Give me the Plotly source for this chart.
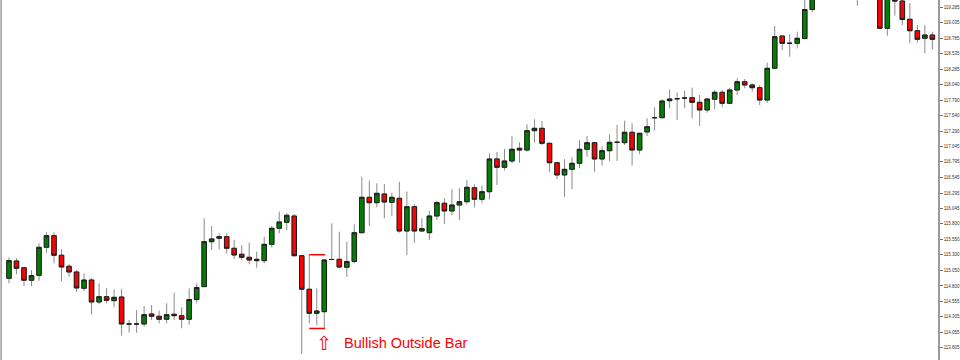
import plotly.graph_objects as go

# ---------------- data ----------------
bar_index = list(range(124))

opens = [
    114.924, 115.202, 115.094, 114.892, 114.972, 115.422, 115.609, 115.294, 115.117, 115.025,
    114.763, 114.896, 114.543, 114.628, 114.564, 114.623, 114.189, 114.189, 114.189, 114.350,
    114.313, 114.265, 114.345, 114.323, 114.265, 114.583, 114.790, 115.512, 115.567, 115.593,
    115.406, 115.310, 115.261, 115.229, 115.207, 115.470, 115.728, 115.824, 115.925, 115.287,
    114.747, 114.361, 114.387, 115.226, 115.229, 115.101, 115.194, 115.657, 116.226, 116.139,
    116.279, 116.146, 116.210, 115.684, 116.075, 115.684, 115.657, 115.925, 116.130, 116.006,
    116.102, 116.155, 116.380, 116.194, 116.316, 116.842, 116.708, 116.810, 117.014, 116.986,
    117.297, 117.335, 117.094, 116.782, 116.585, 116.676, 116.773, 116.998, 117.104, 116.842,
    116.975, 117.110, 117.104, 117.271, 116.986, 117.276, 117.506, 117.506, 117.779, 117.811,
    117.822, 117.827, 117.753, 117.630, 117.802, 117.914, 117.737, 117.951, 118.085, 118.032,
    117.988, 117.790, 118.300, 118.819, 118.702, 118.702, 118.779, 119.245, 119.750, 119.620,
    119.900, 120.050, 119.850, 119.980, 119.600, 119.780, 119.650, 118.943, 119.400, 119.382,
    119.088, 118.904, 118.782, 118.835,
]
highs = [
    115.261, 115.245, 115.105, 115.057, 115.487, 115.663, 115.663, 115.390, 115.149, 115.057,
    115.004, 114.929, 114.843, 114.763, 114.747, 114.752, 114.253, 114.414, 114.478, 114.495,
    114.403, 114.522, 114.692, 114.458, 114.763, 114.843, 115.888, 115.765, 115.647, 115.647,
    115.540, 115.459, 115.496, 115.351, 115.593, 115.765, 115.995, 115.969, 115.958, 115.298,
    115.303, 114.763, 115.234, 115.808, 115.673, 115.512, 115.789, 116.557, 116.493, 116.451,
    116.440, 116.300, 116.477, 116.316, 116.114, 115.888, 116.011, 116.171, 116.210, 116.355,
    116.371, 116.504, 116.435, 116.413, 116.930, 116.954, 117.003, 117.212, 117.110, 117.400,
    117.480, 117.453, 117.100, 116.798, 116.837, 116.869, 117.147, 117.212, 117.110, 117.040,
    117.239, 117.388, 117.458, 117.416, 117.260, 117.496, 117.673, 117.798, 117.962, 117.914,
    117.940, 117.988, 117.871, 117.818, 117.951, 117.951, 117.988, 118.139, 118.128, 118.059,
    118.032, 118.390, 118.980, 118.820, 118.847, 118.888, 119.420, 119.850, 119.880, 120.000,
    120.150, 120.120, 120.060, 120.020, 119.900, 119.860, 119.720, 119.500, 119.460, 119.430,
    119.350, 118.996, 118.996, 118.888,
]
lows = [
    114.843, 114.993, 114.800, 114.800, 114.885, 115.335, 115.165, 114.880, 114.950, 114.704,
    114.715, 114.345, 114.506, 114.522, 114.458, 114.001, 114.049, 114.049, 114.146, 114.253,
    114.200, 114.200, 114.253, 114.120, 114.176, 114.522, 114.785, 115.379, 115.390, 115.326,
    115.234, 115.218, 115.149, 115.094, 115.165, 115.416, 115.647, 115.700, 115.271, 113.707,
    114.200, 114.173, 114.117, 115.218, 115.085, 114.945, 115.165, 115.647, 115.765, 116.065,
    115.888, 115.930, 115.657, 115.298, 115.496, 115.668, 115.540, 115.861, 115.797, 115.941,
    115.861, 116.114, 116.065, 116.130, 116.194, 116.424, 116.657, 116.773, 116.782, 116.959,
    117.104, 117.067, 116.638, 116.520, 116.236, 116.355, 116.692, 116.879, 116.638, 116.734,
    116.810, 116.810, 117.067, 116.734, 116.922, 117.212, 117.300, 117.496, 117.657, 117.469,
    117.657, 117.496, 117.372, 117.586, 117.641, 117.673, 117.726, 117.871, 117.978, 117.924,
    117.710, 117.747, 118.289, 118.594, 118.486, 118.621, 118.766, 119.200, 119.520, 119.550,
    119.800, 119.750, 119.700, 119.306, 119.500, 119.480, 118.940, 118.824, 119.146, 118.996,
    118.702, 118.712, 118.541, 118.605,
]
closes = [
    115.207, 115.085, 114.892, 114.966, 115.422, 115.609, 115.294, 115.105, 115.025, 114.768,
    114.896, 114.543, 114.628, 114.570, 114.618, 114.189, 114.189, 114.189, 114.339, 114.313,
    114.265, 114.339, 114.323, 114.265, 114.583, 114.776, 115.512, 115.556, 115.593, 115.406,
    115.298, 115.261, 115.218, 115.207, 115.470, 115.728, 115.829, 115.937, 115.287, 114.747,
    114.361, 114.398, 115.218, 115.226, 115.105, 115.194, 115.657, 116.226, 116.139, 116.290,
    116.150, 116.226, 115.684, 116.075, 115.684, 115.721, 115.925, 116.139, 116.006, 116.102,
    116.155, 116.387, 116.194, 116.316, 116.842, 116.708, 116.810, 116.998, 116.986, 117.297,
    117.335, 117.094, 116.782, 116.585, 116.676, 116.773, 116.998, 117.104, 116.842, 116.975,
    117.110, 117.110, 117.271, 116.986, 117.255, 117.361, 117.506, 117.774, 117.806, 117.811,
    117.822, 117.753, 117.630, 117.806, 117.914, 117.737, 117.951, 118.085, 118.032, 117.988,
    117.790, 118.300, 118.808, 118.702, 118.702, 118.782, 119.245, 119.750, 119.620, 119.900,
    120.050, 119.850, 119.980, 119.600, 119.780, 119.620, 118.943, 119.430, 119.382, 119.085,
    118.904, 118.766, 118.835, 118.766,
]

y_tick_vals = [119.285, 119.035, 118.785, 118.535, 118.285, 118.040, 117.790, 117.540,
               117.290, 117.045, 116.795, 116.545, 116.295, 116.045, 115.800, 115.550,
               115.300, 115.050, 114.800, 114.555, 114.305, 114.055, 113.805]
y_tick_text = [f"{v:.3f}" for v in y_tick_vals]

annotation_text = "Bullish Outside Bar"
outside_bar = 42

# ---------------- figure ----------------
body_high = [max(o, c) for o, c in zip(opens, closes)]
body_low = [min(o, c) for o, c in zip(opens, closes)]

WICK = "#8a8a8a"
fig = go.Figure()
fig.add_trace(go.Candlestick(
    x=bar_index, open=opens, high=highs, low=lows, close=closes,
    increasing=dict(line=dict(color=WICK, width=1), fillcolor=WICK),
    decreasing=dict(line=dict(color=WICK, width=1), fillcolor=WICK),
    whiskerwidth=0, hoverinfo="skip", showlegend=False,
))
fig.add_trace(go.Candlestick(
    x=bar_index, open=opens, high=body_high, low=body_low, close=closes,
    increasing=dict(line=dict(color="#1e1e1e", width=1), fillcolor="#008000"),
    decreasing=dict(line=dict(color="#1e1e1e", width=1), fillcolor="#ff0000"),
    whiskerwidth=0, hoverinfo="skip", showlegend=False,
))

RED = "#ff0000"
# bracket marking the range engulfed by the outside bar
fig.add_shape(type="line", xref="x", yref="y",
              x0=outside_bar - 2, x1=outside_bar + 0.1,
              y0=highs[outside_bar - 2], y1=highs[outside_bar - 2],
              line=dict(color=RED, width=1.5))
fig.add_shape(type="line", xref="x", yref="y",
              x0=outside_bar - 2, x1=outside_bar + 0.1,
              y0=lows[outside_bar], y1=lows[outside_bar],
              line=dict(color=RED, width=1.5))
# left border
fig.add_shape(type="line", xref="paper", yref="paper", x0=0.0012, x1=0.0012, y0=0, y1=1,
              line=dict(color="#9a9a9a", width=1.5))

fig.add_annotation(x=outside_bar, y=113.884, xref="x", yref="y", text="⇧",
                   showarrow=False, font=dict(family="DejaVu Sans", size=19, color=RED))
fig.add_annotation(x=44.4, y=113.884, xref="x", yref="y", text=annotation_text,
                   showarrow=False, xanchor="left",
                   font=dict(family="Liberation Sans, Arial", size=14.5, color=RED))

fig.update_layout(
    width=960, height=360,
    margin=dict(l=0, r=20, t=0, b=0, pad=0),
    paper_bgcolor="white", plot_bgcolor="white",
    boxmode="overlay", boxgap=0.4, boxgroupgap=0,
    showlegend=False,
    xaxis=dict(range=[-1.196, 123.75], visible=False, rangeslider=dict(visible=False),
               showgrid=False, zeroline=False),
    yaxis=dict(range=[113.610, 119.398], side="right", showgrid=False, zeroline=False,
               showline=True, linecolor="#9a9a9a", linewidth=1.5,
               ticks="outside", ticklen=3, tickcolor="#777", tickwidth=1,
               tickvals=y_tick_vals, ticktext=y_tick_text,
               tickfont=dict(family="Liberation Sans, Arial", size=4.5, color="#333")),
)

fig.write_html("out.html")
